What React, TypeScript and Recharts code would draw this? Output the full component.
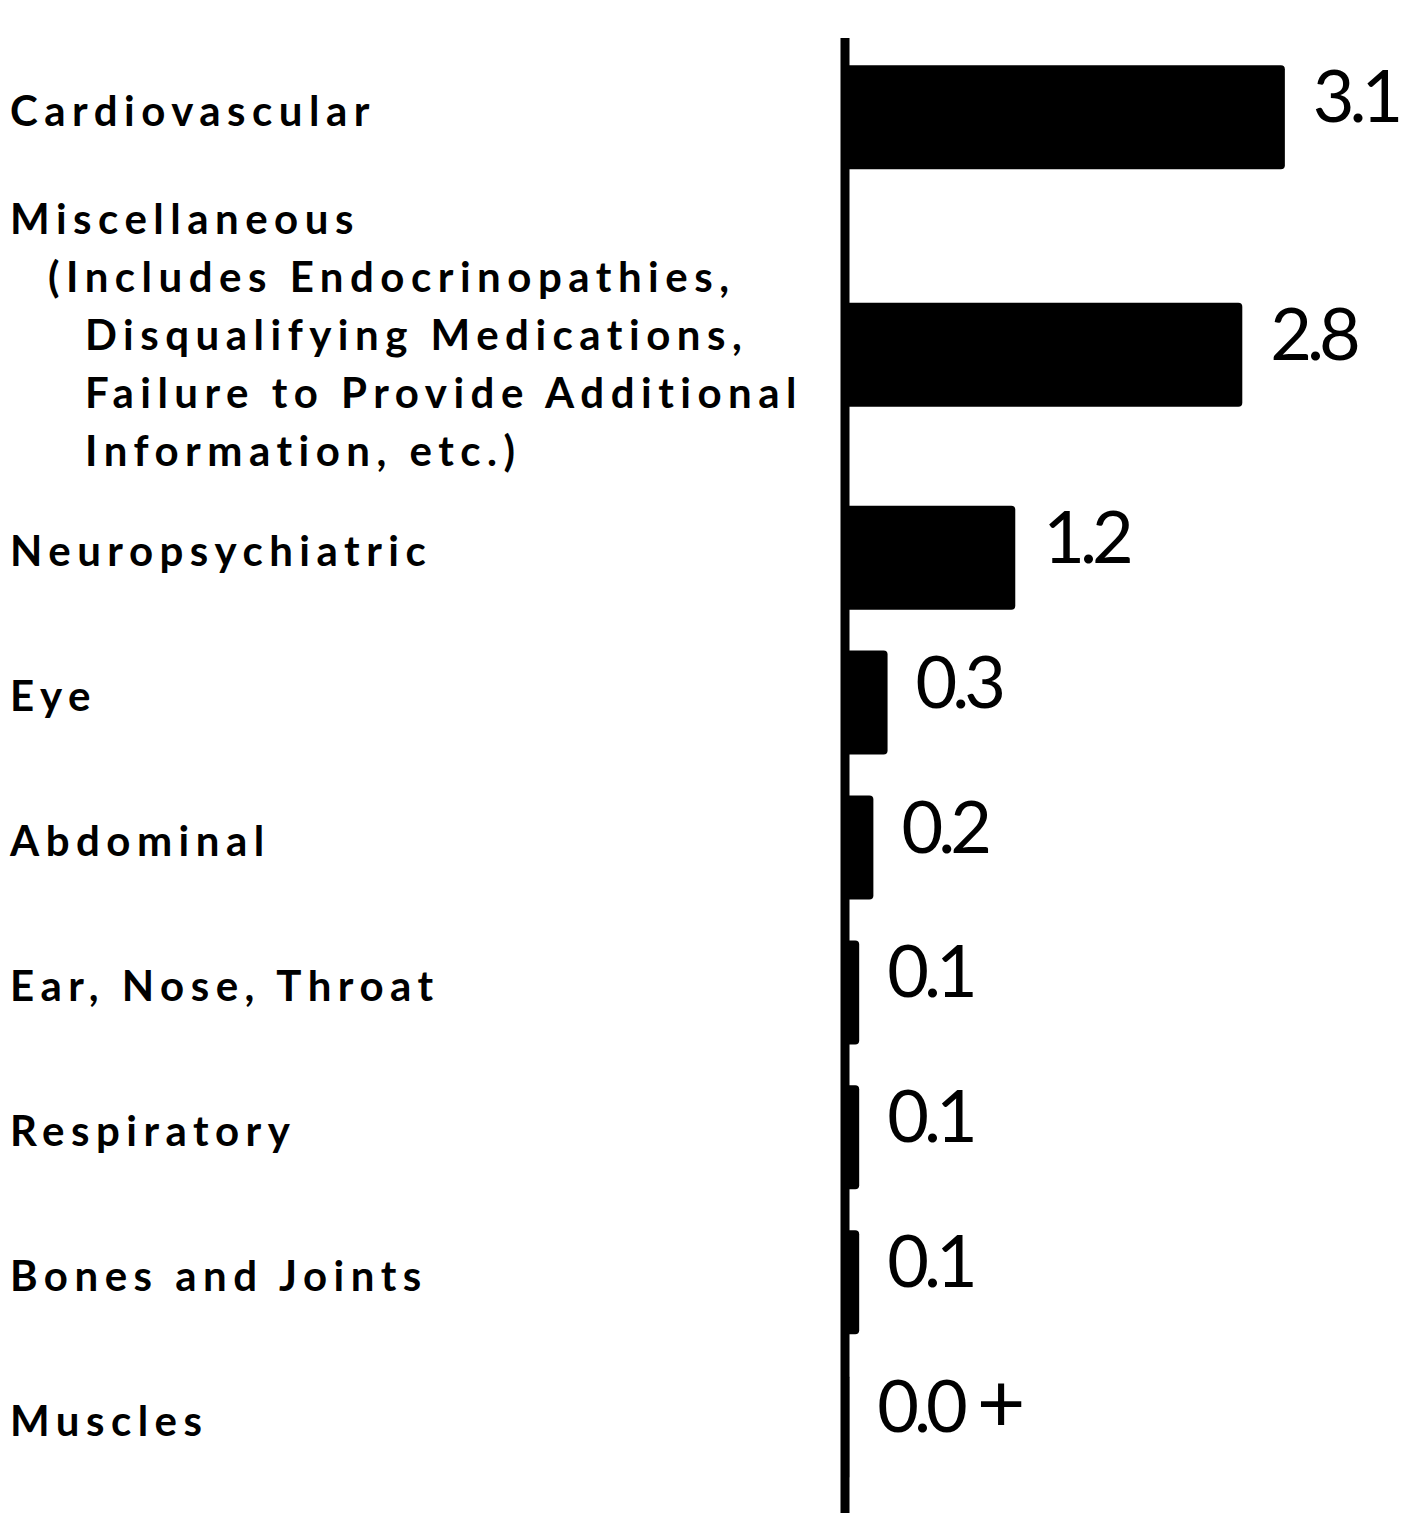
import React from 'react'
import { BarChart, Bar, XAxis, YAxis, LabelList } from 'recharts'

// label lines per category (Miscellaneous wraps over several lines)
const categories = [
  ['Cardiovascular'],
  [
    'Miscellaneous',
    '(Includes Endocrinopathies,',
    'Disqualifying Medications,',
    'Failure to Provide Additional',
    'Information, etc.)',
  ],
  ['Neuropsychiatric'],
  ['Eye'],
  ['Abdominal'],
  ['Ear, Nose, Throat'],
  ['Respiratory'],
  ['Bones and Joints'],
  ['Muscles'],
]
const values = [3.1, 2.8, 1.2, 0.3, 0.2, 0.1, 0.1, 0.1, 0.03]
const valueLabels = ['3.1', '2.8', '1.2', '0.3', '0.2', '0.1', '0.1', '0.1', '0.0+']

// rows with long labels get extra room; the bar sits in the lower part of a tall label
const slots: number[] = []
let pos = 0
categories.forEach((lines, i) => {
  if (i > 0) pos += 1 + 0.16 * (lines.length - 1) + 0.1 * (categories[i - 1].length - 1)
  slots.push(pos)
})

const data = categories.map((lines, i) => ({
  name: lines[0],
  value: values[i],
  label: valueLabels[i],
  slot: slots[i],
}))

const textFont = 'Lato, "DejaVu Sans", sans-serif'

function CategoryTick(props: any) {
  const { y, payload } = props
  const idx = slots.findIndex(s => Math.abs(s - payload.value) < 1e-6)
  if (idx < 0) return null
  const lines = categories[idx]
  const lineGap = 58
  const first = y + 8 - ((lines.length - 1) / 2) * lineGap - (lines.length > 1 ? 13 : 0)
  return (
    <g>
      {lines.map((line, i) => (
        <text
          key={i}
          x={i === 0 ? 2 : i === 1 ? 40 : 77}
          y={first + i * lineGap}
          fontFamily={textFont}
          fontWeight={700}
          fontSize={42}
          letterSpacing={6.5}
          fill="#000"
        >
          {line}
        </text>
      ))}
    </g>
  )
}

function ValueLabel(props: any) {
  const { x, y, width, height, value } = props
  const text = String(value)
  const plus = text.endsWith('+')
  return (
    <text
      x={x + width + 28}
      y={y + height / 2 + 5}
      fontFamily={textFont}
      fontSize={72}
      letterSpacing={-5}
      fill="#000"
    >
      {plus ? text.slice(0, -1) : text}
      {plus && (
        <tspan dx={14} fontSize={84}>
          +
        </tspan>
      )}
    </text>
  )
}

export default function App() {
  return (
    <div style={{ width: 1394, height: 1505, background: '#fff' }}>
      <BarChart
        layout="vertical"
        width={1394}
        height={1505}
        data={data}
        margin={{ top: 30, right: 32, bottom: 0, left: 0 }}
      >
        <XAxis type="number" domain={[0, 3.7]} hide />
        <YAxis
          type="number"
          dataKey="slot"
          domain={[-0.55, 9.63]}
          ticks={slots}
          interval={0}
          width={837}
          tickLine={false}
          axisLine={{ stroke: '#000', strokeWidth: 9 }}
          tick={<CategoryTick />}
        />
        <Bar dataKey="value" fill="#000" barSize={104} radius={[0, 4, 4, 0]} isAnimationActive={false}>
          <LabelList dataKey="label" content={<ValueLabel />} />
        </Bar>
      </BarChart>
    </div>
  )
}
